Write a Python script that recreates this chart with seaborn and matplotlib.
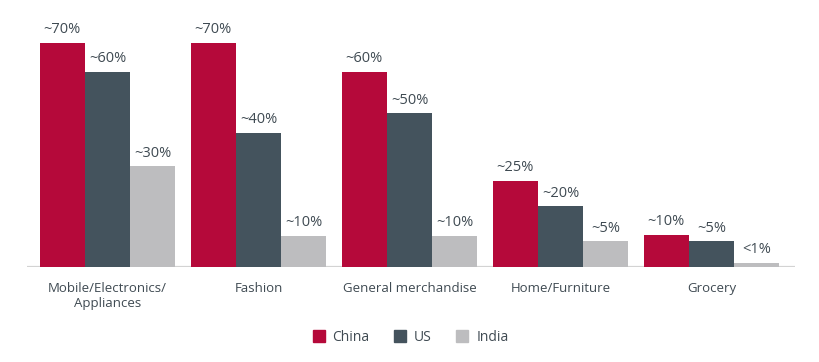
import pandas as pd
import seaborn as sns
import matplotlib.pyplot as plt
from matplotlib.lines import Line2D

# categories and series (bar heights, labels as printed)
categories = ["Mobile/Electronics/\nAppliances", "Fashion", "General merchandise", "Home/Furniture", "Grocery"]
countries = ["China", "US", "India"]
china = [70, 70, 61, 27, 10]
us = [61, 42, 48, 19, 8]
india = [31.5, 9.7, 9.7, 8, 1.3]
china_lbl = ["~70%", "~70%", "~60%", "~25%", "~10%"]
us_lbl = ["~60%", "~40%", "~50%", "~20%", "~5%"]
india_lbl = ["~30%", "~10%", "~10%", "~5%", "<1%"]

colors = ["#B5093A", "#44535D", "#BDBDBF"]
text_col = "#3F4A52"

rows = []
for vals, c in zip([china, us, india], countries):
    for cat, v in zip(categories, vals):
        rows.append({"Category": cat, "Country": c, "Share": v})
df = pd.DataFrame(rows)

sns.set_style("white")
plt.rcParams["font.family"] = ["Open Sans", "DejaVu Sans"]

fig = plt.figure(figsize=(8.2, 3.62), dpi=100)
ax = fig.add_axes([0.033, 0.2624, 0.9365, 0.7072])

sns.barplot(data=df, x="Category", y="Share", hue="Country", palette=colors,
            width=0.9, saturation=1, ax=ax, legend=False, linewidth=0)

# value labels above bars
for cont, lbls in zip(ax.containers, [china_lbl, us_lbl, india_lbl]):
    ax.bar_label(cont, labels=lbls, padding=4, fontsize=10.5, color=text_col)

ax.set_xlim(-0.533, 4.553)
ax.set_ylim(0, 80)
ax.set_xlabel("")
ax.set_ylabel("")
ax.set_yticks([])
for s in ax.spines.values():
    s.set_visible(False)
ax.axhline(0, color="#D3D3D3", linewidth=1.6, zorder=0)
ax.tick_params(axis="x", length=0, pad=11, labelsize=9.5, labelcolor=text_col)

handles = [Line2D([], [], marker="s", linestyle="", markersize=8, color=c) for c in colors]
fig.legend(handles, countries, loc="center", bbox_to_anchor=(0.5, 0.069), ncol=3,
           frameon=False, fontsize=10, labelcolor=text_col, columnspacing=1.7,
           handletextpad=0.5, handlelength=1.0)

fig.savefig("out.png", dpi=100)
